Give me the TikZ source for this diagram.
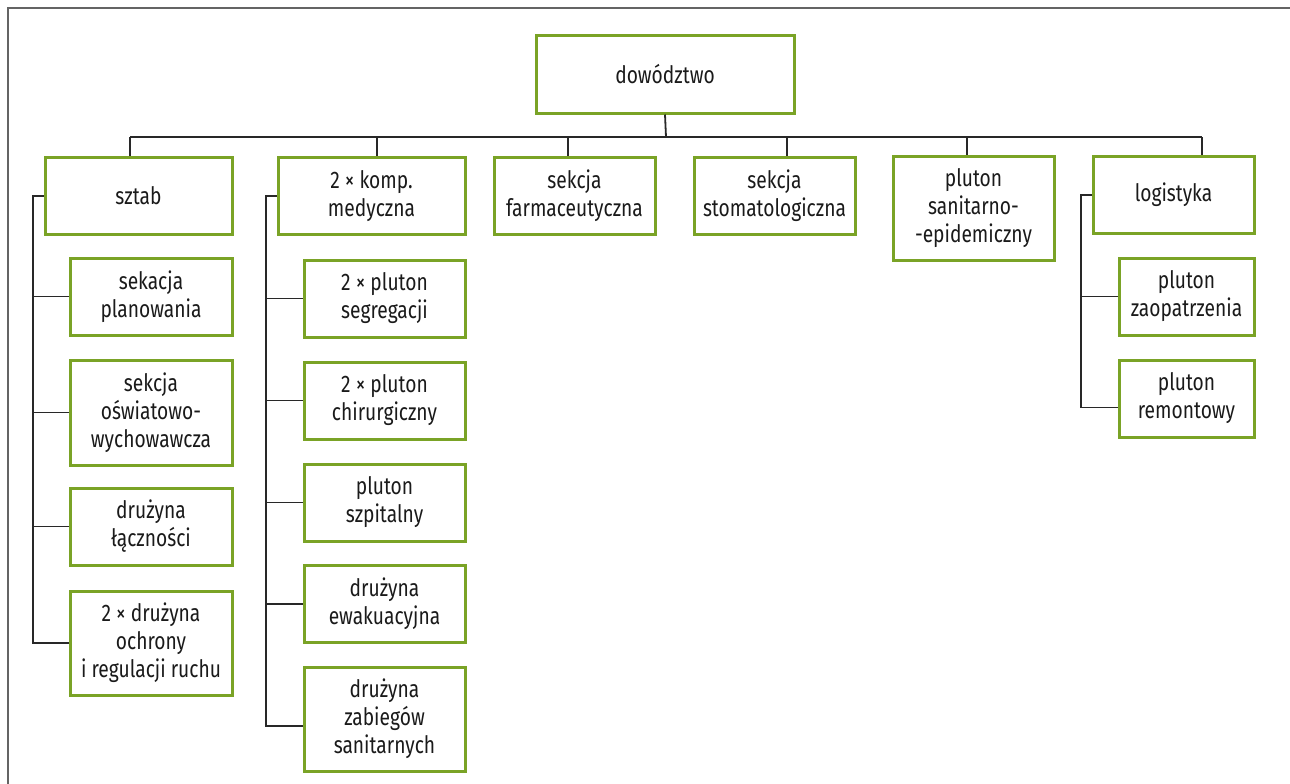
\documentclass[tikz,border=0pt]{standalone}
\usepackage{fontspec}
\setmainfont[FakeStretch=0.8]{Fira Sans}
\definecolor{boxgreen}{RGB}{122,163,38}
\definecolor{linegray}{RGB}{40,40,40}
\definecolor{framegray}{RGB}{100,100,100}
\definecolor{txt}{RGB}{26,26,26}
\tikzset{
  unit/.style={draw=boxgreen, line width=3pt, fill=white, align=center,
    text=txt, inner sep=2pt, font=\fontsize{24}{28}\selectfont},
  wide/.style={unit, minimum width=#1pt},
  tall/.style={minimum height=#1pt},
  link/.style={draw=linegray, line width=1.8pt},
  frame/.style={draw=framegray, line width=2pt}
}
\begin{document}
\begin{tikzpicture}[x=1pt,y=-1pt]
\useasboundingbox (0,0) rectangle (1290,784);
\fill[white] (0,0) rectangle (1290,784);
% outer frame (top and left edges)
\draw[frame] (8,784) -- (8,8) -- (1290,8);

% bus and branch reference points
\coordinate (b1) at (130,137);
\coordinate (b2) at (377,137);
\coordinate (b3) at (568,137);
\coordinate (b4) at (666,137);
\coordinate (b5) at (787,137);
\coordinate (b6) at (967,137);
\coordinate (b7) at (1202,137);
\coordinate (c1) at (33,0);
\coordinate (c2) at (266,0);
\coordinate (c3) at (1081,0);

% top level
\node[wide=258, tall=77] (dow) at (665,74.5) {dowództwo};
\node[wide=187, tall=77] (sztab) at (138.5,196) {sztab};
\node[wide=187, tall=77] (komp) at (371.5,196) {2 × komp.\\medyczna};
\node[wide=161, tall=77] (farm) at (574.5,196) {sekcja\\farmaceutyczna};
\node[wide=161, tall=77] (stom) at (774.5,196) {sekcja\\stomatologiczna};
\node[wide=161, tall=104] (plut) at (973.5,208) {pluton\\sanitarno-\\-epidemiczny};
\node[wide=161, tall=77] (logi) at (1173.5,195) {logistyka};

% sztab
\node[wide=162, tall=77] (plan) at (151,296.5) {sekacja\\planowania};
\node[wide=162, tall=105] (osw) at (151,412.5) {sekcja\\oświatowo-\\wychowawcza};
\node[wide=162, tall=77] (lacz) at (151,526.5) {drużyna\\łączności};
\node[wide=162, tall=104] (ochr) at (151,643) {2 × drużyna\\ochrony\\i regulacji ruchu};

% komp. medyczna
\node[wide=161, tall=77] (seg) at (384.5,298.5) {2 × pluton\\segregacji};
\node[wide=161, tall=77] (chir) at (384.5,400.5) {2 × pluton\\chirurgiczny};
\node[wide=161, tall=77] (szp) at (384.5,502.5) {pluton\\szpitalny};
\node[wide=161, tall=77] (ewak) at (384.5,604) {drużyna\\ewakuacyjna};
\node[wide=161, tall=104] (zab) at (384.5,719) {drużyna\\zabiegów\\sanitarnych};

% logistyka
\node[wide=135, tall=77] (zaop) at (1186.5,296.5) {pluton\\zaopatrzenia};
\node[wide=135, tall=77] (rem) at (1186.5,398.5) {pluton\\remontowy};

% bus
\draw[link] (dow.south) -- (b4);
\draw[link] (b1) -- (b7);
\draw[link] (b1) -- (b1 |- sztab.north);
\draw[link] (b2) -- (b2 |- komp.north);
\draw[link] (b3) -- (b3 |- farm.north);
\draw[link] (b5) -- (b5 |- stom.north);
\draw[link] (b6) -- (b6 |- plut.north);
\draw[link] (b7) -- (b7 |- logi.north);

% sztab branch
\draw[link] (sztab.west) -- (c1 |- sztab.west) -- (c1 |- ochr.west) -- (ochr.west);
\draw[link] (c1 |- plan.west) -- (plan.west);
\draw[link] (c1 |- osw.west) -- (osw.west);
\draw[link] (c1 |- lacz.west) -- (lacz.west);

% komp. medyczna branch
\coordinate (zabin) at ([yshift=-7pt]zab.west);
\draw[link] (komp.west) -- (c2 |- komp.west) -- (c2 |- zabin) -- (zabin);
\draw[link] (c2 |- seg.west) -- (seg.west);
\draw[link] (c2 |- chir.west) -- (chir.west);
\draw[link] (c2 |- szp.west) -- (szp.west);
\draw[link] (c2 |- ewak.west) -- (ewak.west);

% logistyka branch
\coordinate (remin) at ([yshift=-9pt]rem.west);
\draw[link] (logi.west) -- (c3 |- logi.west) -- (c3 |- remin) -- (remin);
\draw[link] (c3 |- zaop.west) -- (zaop.west);
\end{tikzpicture}
\end{document}
